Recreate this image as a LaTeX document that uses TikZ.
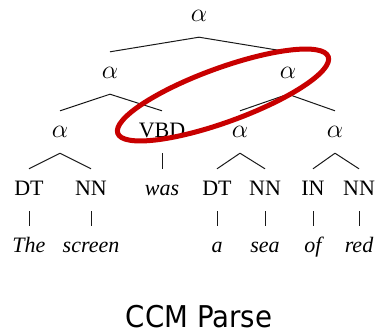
\RequirePackage{fix-cm}
\documentclass[tikz,border=0pt]{standalone}
\usepackage{fontspec}
\newfontfamily\tagfont{Liberation Serif}
\newfontfamily\capfont[FakeStretch=0.92]{DejaVu Sans}
\definecolor{ringred}{RGB}{200,0,0}
\tikzset{
  cat/.style = {anchor=base, inner xsep=0pt, inner ysep=16pt, text height=10pt, text depth=0pt,
    font=\tagfont\fontsize{22}{26}\selectfont},
  span/.style = {cat, font=\fontsize{26}{30}\selectfont},
  word/.style = {cat, font=\tagfont\itshape\fontsize{22}{26}\selectfont},
  branch/.style = {draw=black!90, line width=1pt},
  ring/.style = {draw=ringred, line width=5pt}
}

\begin{document}
\begin{tikzpicture}[x=1pt, y=-1pt]
\useasboundingbox (0,0) rectangle (379,335);
% TREE NODES
\node[span] (R) at (199,21) {$\alpha$};
\node[span] (A1) at (110,78) {$\alpha$};
\node[span] (A2) at (288,78) {$\alpha$};
\node[span] (A11) at (60,137) {$\alpha$};
\node[cat] (VBD) at (162,137) {VBD};
\node[span] (A21) at (240,137) {$\alpha$};
\node[span] (A22) at (335,137) {$\alpha$};
% TAGS
\node[cat] (DT1) at (29,195) {DT};
\node[cat] (NN1) at (91,195) {NN};
\node[word] (Was) at (162,195) {was};
\node[cat] (DT2) at (217,195) {DT};
\node[cat] (NN2) at (265,195) {NN};
\node[cat] (IN) at (313,195) {IN};
\node[cat] (NN3) at (359,195) {NN};
% WORDS
\node[word] (The) at (29,252) {The};
\node[word] (Screen) at (91,252) {screen};
\node[word] (A) at (217,252) {a};
\node[word] (Sea) at (265,252) {sea};
\node[word] (Of) at (313,252) {of};
\node[word] (Red) at (359,252) {red};
% EDGES
\foreach \p/\c in {R/A1, R/A2, A1/A11, A1/VBD, A2/A21, A2/A22,
    A11/DT1, A11/NN1, VBD/Was, A21/DT2, A21/NN2, A22/IN, A22/NN3,
    DT1/The, NN1/Screen, DT2/A, NN2/Sea, IN/Of, NN3/Red}
  \draw[branch] (\p.south) -- (\c.north);
% CAPTION
\node[anchor=base, inner sep=0pt, font=\capfont\fontsize{30}{34}\selectfont] (Caption) at (199,327) {CCM Parse};
% RING
\coordinate (RingC) at (223,95);
\draw[ring, rotate around={20:(RingC)}] (RingC) ellipse [x radius=112pt, y radius=27pt];
\end{tikzpicture}
\end{document}
